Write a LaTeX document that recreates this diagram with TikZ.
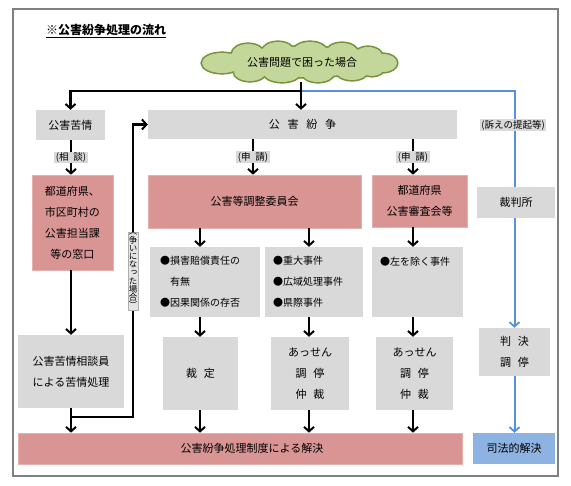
\documentclass[tikz,border=0pt]{standalone}
\usepackage{fontspec}
\setmainfont{Noto Sans CJK JP}
\newfontfamily\vjp[RawFeature=+vert]{Noto Sans CJK JP}
\usetikzlibrary{arrows.meta,backgrounds}
\definecolor{boxgray}{HTML}{D9D9D9}
\definecolor{boxred}{HTML}{D99594}
\definecolor{boxredline}{HTML}{E6B0AF}
\definecolor{cloudfill}{HTML}{C4D79B}
\definecolor{cloudline}{HTML}{77933C}
\definecolor{blueline}{HTML}{5592DB}
\definecolor{bluebox}{HTML}{8DB3E2}
\definecolor{framegray}{HTML}{808080}
\begin{document}
\begin{tikzpicture}[x=1pt,y=-1pt,
  gbox/.style={fill=boxgray, draw=none, inner sep=0pt, align=center, font=\fontsize{11}{21}\selectfont},
  rbox/.style={fill=boxred, draw=boxredline, line width=0.6pt, inner sep=0pt, align=center, font=\fontsize{11}{21}\selectfont},
  bbox/.style={fill=bluebox, draw=none, inner sep=0pt, align=center, font=\fontsize{11}{21}\selectfont},
  listbox/.style={fill=boxgray, draw=none, inner ysep=0pt, align=left, font=\fontsize{10}{21}\selectfont},
  lbl/.style={fill=boxgray, inner xsep=1.5pt, inner ysep=1pt, font=\fontsize{9.5}{11}\selectfont},
  vlbl/.style={fill=boxgray!70, draw=boxgray!80!black, line width=0.3pt, inner xsep=1pt, inner ysep=1pt, align=center, font=\vjp\fontsize{8.5}{8.2}\selectfont},
  blk/.style={line width=2.4pt, black},
  arr/.style={blk, -{Straight Barb[length=4.5pt,width=10pt,line width=2pt]}},
  barr/.style={line width=2pt, blueline, -{Straight Barb[length=4.5pt,width=10pt,line width=1.8pt]}},
  framebox/.style={draw=framegray, line width=2pt},
  puffline/.style={draw=cloudline, line width=3.2pt},
  pufffill/.style={fill=cloudfill}
]
\useasboundingbox (0,0) rectangle (571,486);
\draw[framebox] (13,9) rectangle (558,476);

\node[anchor=west, inner sep=0pt, font=\fontsize{12}{14}\selectfont\bfseries] (title) at (46,31) {\underline{※公害紛争処理の流れ}};

% cloud drawn as a union of ellipses
\foreach \cx/\cy/\rx/\ry in {300/62/82/15, 222/63/20/10, 248/54/16/10, 278/52/16/10, 310/52/17/10, 342/53/16/10, 368/56/14/9, 383/63/14/9, 250/72/16/9, 282/73/18/9, 318/73/16/9, 352/71/16/9, 372/68/12/8}
  {\path[puffline] (\cx,\cy) ellipse [x radius=\rx, y radius=\ry];}
\foreach \cx/\cy/\rx/\ry in {300/62/82/15, 222/63/20/10, 248/54/16/10, 278/52/16/10, 310/52/17/10, 342/53/16/10, 368/56/14/9, 383/63/14/9, 250/72/16/9, 282/73/18/9, 318/73/16/9, 352/71/16/9, 372/68/12/8}
  {\path[pufffill] (\cx,\cy) ellipse [x radius=\rx, y radius=\ry];}
\node[inner sep=0pt, font=\fontsize{11}{13}\selectfont] (cloud) at (302,62) {公害問題で困った場合};
\coordinate (cloudbot) at (301,82);

\node[gbox, minimum width=69pt, minimum height=30pt] (kujo) at (70.5,125) {公害苦情};
\node[gbox, minimum width=309pt, minimum height=29pt] (funso) at (302.5,124.5) {公\hspace{0.7em}害\hspace{0.7em}紛\hspace{0.7em}争};
\node[rbox, minimum width=81pt, minimum height=95pt] (mado) at (72.5,222.5) {都道府県、\\市区町村の\\公害担当課\\等の窓口};
\node[gbox, minimum width=106pt, minimum height=73pt] (soudan) at (71,371.5) {公害苦情相談員\\による苦情処理};
\node[rbox, minimum width=213pt, minimum height=53pt] (iinkai) at (254.5,201.5) {公害等調整委員会};
\node[rbox, minimum width=95pt, minimum height=52pt] (shinsa) at (419.5,201) {都道府県\\公害審査会等};
\node[gbox, minimum width=78pt, minimum height=31pt] (saiban) at (516,202.5) {裁判所};

\node[listbox, text width=90pt, inner xsep=10pt, minimum height=70pt] (b1) at (205,282) {●損害賠償責任の\\\hspace*{1em}有無\\●因果関係の存否};
\node[listbox, text width=82pt, inner xsep=8pt, minimum height=70pt] (b2) at (314,282) {●重大事件\\●広域処理事件\\●県際事件};
\node[listbox, text width=75pt, inner xsep=8pt, minimum height=70pt] (b3) at (417.5,282) {●左を除く事件\\\mbox{}\\\mbox{}};

\node[gbox, minimum width=75pt, minimum height=73pt] (saitei) at (200.5,373.5) {裁\hspace{0.6em}定};
\node[gbox, minimum width=78pt, minimum height=73pt] (assen1) at (310,373.5) {あっせん\\調\hspace{0.6em}停\\仲\hspace{0.6em}裁};
\node[gbox, minimum width=77pt, minimum height=73pt] (assen2) at (414.5,373.5) {あっせん\\調\hspace{0.6em}停\\仲\hspace{0.6em}裁};
\node[gbox, minimum width=71pt, minimum height=48pt] (hanketsu) at (514.5,352) {判\hspace{0.6em}決\\調\hspace{0.6em}停};

\node[rbox, minimum width=444pt, minimum height=31pt] (bar) at (240,448.5) {\hspace*{24pt}公害紛争処理制度による解決};
\node[bbox, minimum width=82pt, minimum height=31pt] (shiho) at (514,448.5) {司法的解決};

\coordinate (yline) at (0,91);
\coordinate (sp) at (cloudbot |- yline);
\coordinate (c1) at (71,0);
\coordinate (c2) at (200,0);
\coordinate (c3) at (309,0);
\coordinate (c4) at (413,0);
\coordinate (cs) at (253,0);
\coordinate (lp) at (133,417);

\begin{scope}[on background layer]
\fill[white] (0,0) rectangle (571,486);
\draw[barr] (sp) -| (hanketsu.north);
\end{scope}
\draw[barr] (hanketsu.south) -- (hanketsu.south |- shiho.north);
\node[lbl] (uttae) at (513,125) {(訴えの提起等)};

\draw[arr] (cloudbot) -- (cloudbot |- funso.north);
\draw[arr] (sp) -| (kujo.north);

\draw[arr] (kujo.south -| c1) -- node[lbl] (soudanlbl) {(相\hspace{0.5em}談)} (mado.north -| c1);
\draw[arr] (mado.south -| c1) -- (soudan.north -| c1);
\draw[arr] (soudan.south -| c1) -- (bar.north -| c1);
\draw[arr] (lp -| c1) -- (lp) |- (funso.west);
\node[vlbl] (arasoi) at (133,271) {（\\争\\い\\に\\な\\っ\\た\\場\\合\\）};

\draw[arr] (funso.south -| cs) -- node[lbl] (shinsei1) {(申\hspace{0.5em}請)} (iinkai.north -| cs);
\draw[arr] (funso.south -| c4) -- node[lbl] (shinsei2) {(申\hspace{0.5em}請)} (shinsa.north -| c4);

\draw[arr] (iinkai.south -| c2) -- (b1.north -| c2);
\draw[arr] (iinkai.south -| c3) -- (b2.north -| c3);
\draw[arr] (shinsa.south -| c4) -- (b3.north -| c4);
\draw[arr] (b1.south -| c2) -- (saitei.north -| c2);
\draw[arr] (b2.south -| c3) -- (assen1.north -| c3);
\draw[arr] (b3.south -| c4) -- (assen2.north -| c4);
\draw[arr] (saitei.south -| c2) -- (bar.north -| c2);
\draw[arr] (assen1.south -| c3) -- (bar.north -| c3);
\draw[arr] (assen2.south -| c4) -- (bar.north -| c4);
\end{tikzpicture}
\end{document}
